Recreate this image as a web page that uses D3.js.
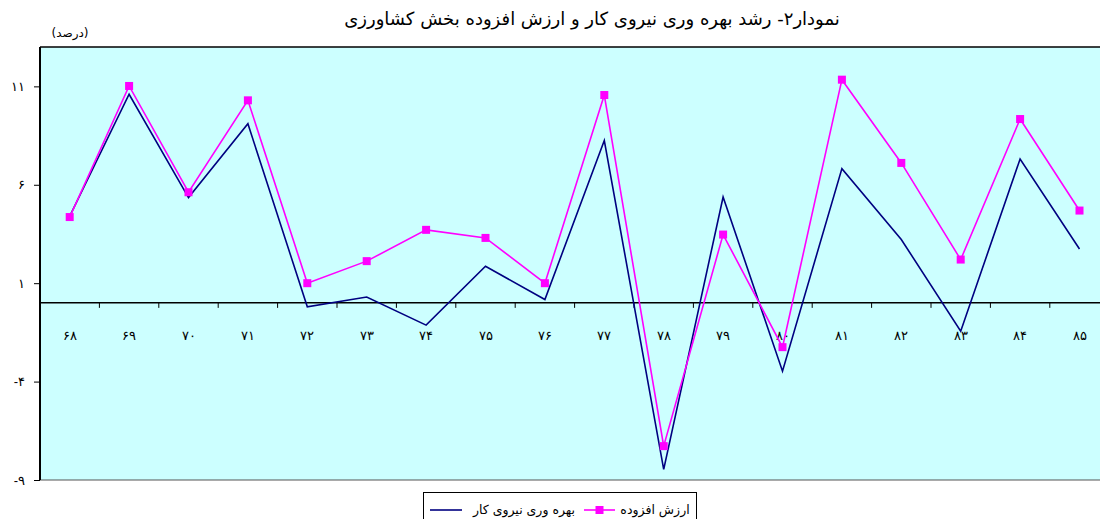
<!DOCTYPE html>
<html><head><meta charset="utf-8">
<script src="https://cdn.jsdelivr.net/npm/d3@7"></script>
<style>
html,body{margin:0;padding:0;background:#fff;}
svg{display:block;font-family:"DejaVu Sans",sans-serif;}
</style></head>
<body>
<svg id="chart" width="1100" height="519"></svg>
<script>
const years = ["68","69","70","71","72","73","74","75","76","77","78","79","80","81","82","83","84","85"];
const productivity = [4.4, 10.6, 5.35, 9.1, -0.2, 0.3, -1.13, 1.86, 0.17, 8.25, -8.46, 5.38, -3.47, 6.82, 3.22, -1.44, 7.31, 2.74];
const valueAdded = [4.36, 11.02, 5.62, 10.29, 1.0, 2.12, 3.71, 3.3, 1.0, 10.56, -7.28, 3.47, -2.25, 11.34, 7.11, 2.2, 9.34, 4.69];
const yTicks = [-9, -4, 1, 6, 11];
const titleText = "نمودار۲- رشد بهره وری نیروی کار و ارزش افزوده بخش کشاورزی";
const unitText = "(درصد)";
const seriesNames = ["بهره وری نیروی کار", "ارزش افزوده"];

const fa = s => String(s).replace(/\d/g, d => "۰۱۲۳۴۵۶۷۸۹"[+d]);

const svg = d3.select("#chart");
const pLeft = 40, pTop = 47, pBottom = 480;
const bandW = 59.4;
const x = d3.scaleBand().domain(years).range([pLeft, pLeft + bandW * years.length]).paddingInner(0).paddingOuter(0);
const y = d3.scaleLinear().domain([-9, 13]).range([pBottom, pTop]);
const cx = d => x(d) + x.bandwidth() / 2;

// plot background
svg.append("rect").attr("x", pLeft).attr("y", pTop).attr("width", 1100 - pLeft).attr("height", pBottom - pTop)
  .attr("fill", "#CCFFFF");
// borders
svg.append("line").attr("x1", pLeft).attr("x2", 1100).attr("y1", pTop).attr("y2", pTop).attr("stroke", "#000").attr("stroke-width", 1.5);
svg.append("line").attr("x1", pLeft).attr("x2", 1100).attr("y1", pBottom).attr("y2", pBottom).attr("stroke", "#555").attr("stroke-width", 1.2);

// y axis
const yAxis = svg.append("g").attr("transform", `translate(${pLeft},0)`)
  .call(d3.axisLeft(y).tickValues(yTicks).tickSize(6).tickPadding(9).tickFormat(d => d < 0 ? "-" + fa(-d) : fa(d)));
yAxis.select(".domain").attr("stroke", "#000").attr("stroke-width", 2).attr("d", `M0,${pTop}V${pBottom}`);
yAxis.selectAll(".tick line").attr("stroke", "#000");
yAxis.selectAll(".tick text").attr("font-size", 13).attr("fill", "#000").attr("direction", "ltr").attr("letter-spacing", 1.5);

// x axis at zero
const y0 = y(0);
const xAxis = svg.append("g").attr("transform", `translate(0,${y0})`)
  .call(d3.axisBottom(x).tickSize(0).tickPadding(28).tickFormat(fa));
xAxis.select(".domain").attr("stroke", "#000").attr("stroke-width", 1.5).attr("d", `M${pLeft},0H1100`);
xAxis.selectAll(".tick text").attr("font-size", 13).attr("fill", "#000").attr("letter-spacing", 2);
// boundary tick marks
svg.append("g").selectAll("line").data(years.slice(1)).join("line")
  .attr("x1", d => x(d)).attr("x2", d => x(d)).attr("y1", y0).attr("y2", y0 + 5)
  .attr("stroke", "#000").attr("stroke-width", 1);

// lines
const line = d3.line().x((d, i) => cx(years[i])).y(d => y(d));
svg.append("path").datum(productivity).attr("d", line).attr("fill", "none").attr("stroke", "#000080").attr("stroke-width", 1.6);
svg.append("path").datum(valueAdded).attr("d", line).attr("fill", "none").attr("stroke", "#FF00FF").attr("stroke-width", 1.6);
svg.append("g").selectAll("rect").data(valueAdded).join("rect")
  .attr("x", (d, i) => cx(years[i]) - 4).attr("y", d => y(d) - 4).attr("width", 8).attr("height", 8)
  .attr("fill", "#FF00FF");

// title
svg.append("text").attr("x", 592).attr("y", 25).attr("text-anchor", "middle").attr("font-size", 18).attr("fill", "#000").text(titleText);
svg.append("text").attr("x", 70).attr("y", 37).attr("text-anchor", "middle").attr("font-size", 12).attr("fill", "#000").text(unitText);

// legend
const lg = svg.append("g");
lg.append("rect").attr("x", 423.5).attr("y", 492.5).attr("width", 273).attr("height", 40).attr("fill", "#fff").attr("stroke", "#000").attr("stroke-width", 1);
lg.append("line").attr("x1", 430).attr("x2", 462).attr("y1", 510).attr("y2", 510).attr("stroke", "#000080").attr("stroke-width", 1.6);
lg.append("text").attr("x", 524).attr("y", 514).attr("text-anchor", "middle").attr("font-size", 12.5).attr("fill", "#000").text(seriesNames[0]);
lg.append("line").attr("x1", 584).attr("x2", 615).attr("y1", 510).attr("y2", 510).attr("stroke", "#FF00FF").attr("stroke-width", 1.6);
lg.append("rect").attr("x", 595.5).attr("y", 506).attr("width", 8).attr("height", 8).attr("fill", "#FF00FF");
lg.append("text").attr("x", 655).attr("y", 514).attr("text-anchor", "middle").attr("font-size", 12.5).attr("fill", "#000").text(seriesNames[1]);
</script>
</body></html>
